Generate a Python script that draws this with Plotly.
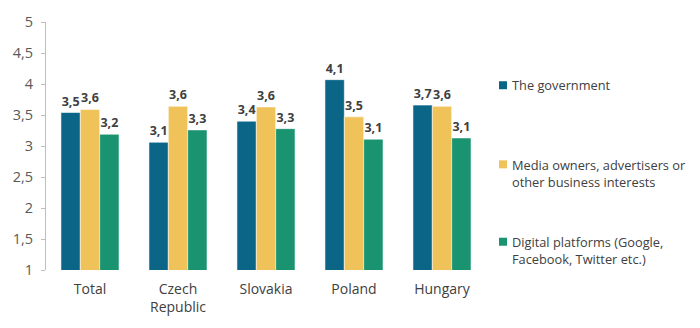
import plotly.graph_objects as go

# Mean scores by country and by source of influence
categories = ["Total", "Czech<br>Republic", "Slovakia", "Poland", "Hungary"]
government = [3.54, 3.06, 3.40, 4.07, 3.66]
media_owners = [3.59, 3.64, 3.63, 3.47, 3.64]
digital_platforms = [3.19, 3.26, 3.28, 3.11, 3.13]

series_names = [
    "The government",
    "Media owners, advertisers or<br>other business interests",
    "Digital platforms (Google,<br>Facebook, Twitter etc.)",
]
series_values = [government, media_owners, digital_platforms]
series_colors = ["#0B6587", "#F0C25A", "#1A9470"]

y_ticks = [1, 1.5, 2, 2.5, 3, 3.5, 4, 4.5, 5]

FONT = "Open Sans"

fig = go.Figure()
for name, vals, col in zip(series_names, series_values, series_colors):
    fig.add_trace(go.Bar(
        x=categories,
        y=vals,
        name=name,
        marker=dict(color=col, line=dict(color="rgba(255,255,255,0.55)", width=1)),
        texttemplate="%{y:.1f}",
        textposition="outside",
        textfont=dict(family=FONT, size=12.5, color="#404040", weight="bold"),
        constraintext="none",
        cliponaxis=False,
        showlegend=False,
    ))

# Legend drawn as swatches + text on the right side
legend_y_text = [0.745, 0.3906, 0.079]
legend_y_swatch = [0.745, 0.426, 0.114]
annotations = []
shapes = []
for name, col, yt, ys in zip(series_names, series_colors, legend_y_text, legend_y_swatch):
    annotations.append(dict(
        xref="paper", yref="paper", x=1.054, y=yt,
        xanchor="left", yanchor="middle", align="left",
        text=name, showarrow=False,
        font=dict(family=FONT, size=12.8, color="#404040"),
    ))
    shapes.append(dict(
        type="rect", xref="paper", yref="paper",
        xsizemode="pixel", ysizemode="pixel",
        xanchor=1.0, yanchor=ys,
        x0=13, x1=21, y0=-4, y1=4,
        fillcolor=col, line=dict(width=0),
    ))

fig.update_layout(
    width=700, height=328,
    margin=dict(l=46, r=214, t=19, b=54),
    paper_bgcolor="white", plot_bgcolor="white",
    barmode="group", bargap=0.34, bargroupgap=0,
    separators=", ",
    font=dict(family=FONT, size=13, color="#595959"),
    annotations=annotations,
    shapes=shapes,
)
fig.update_yaxes(
    range=[1, 5], tickvals=y_ticks, tickformat=".1~f",
    showgrid=False, zeroline=False,
    showline=True, linecolor="#BFBFBF", linewidth=1,
    ticks="outside", ticklen=4, tickcolor="#BFBFBF",
    ticklabelstandoff=5,
    tickfont=dict(family=FONT, size=14.5, color="#595959"),
)
fig.update_xaxes(
    showgrid=False, showline=False, ticks="",
    ticklabelstandoff=9,
    tickfont=dict(family=FONT, size=14, color="#404040"),
)

fig.write_html("out.html")
